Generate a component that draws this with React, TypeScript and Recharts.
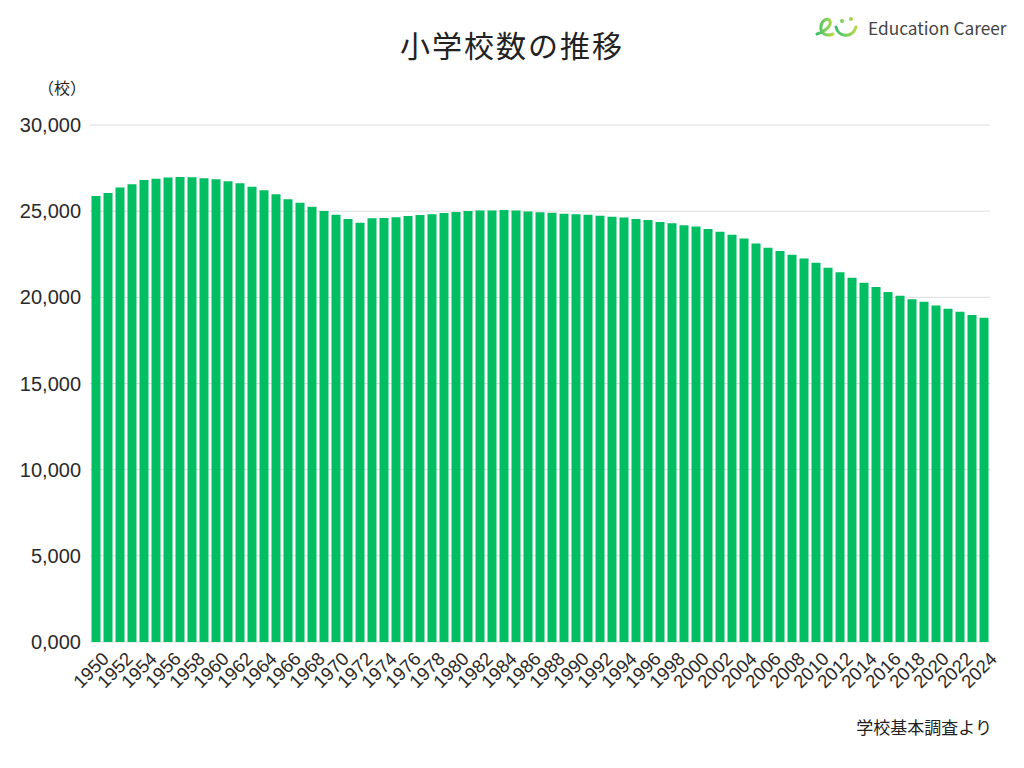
import React from "react";
import { BarChart, Bar, XAxis, YAxis, CartesianGrid } from "recharts";

const years: string[] = [
  "1950","1951","1952","1953","1954","1955","1956","1957","1958","1959",
  "1960","1961","1962","1963","1964","1965","1966","1967","1968","1969",
  "1970","1971","1972","1973","1974","1975","1976","1977","1978","1979",
  "1980","1981","1982","1983","1984","1985","1986","1987","1988","1989",
  "1990","1991","1992","1993","1994","1995","1996","1997","1998","1999",
  "2000","2001","2002","2003","2004","2005","2006","2007","2008","2009",
  "2010","2011","2012","2013","2014","2015","2016","2017","2018","2019",
  "2020","2021","2022","2023","2024",
];

const schools: number[] = [
  25878, 26056, 26377, 26555, 26804, 26880, 26957, 26988, 26964, 26916,
  26858, 26741, 26615, 26423, 26210, 25977, 25687, 25487, 25262, 25013,
  24790, 24540, 24325, 24592, 24606, 24652, 24717, 24777, 24828, 24899,
  24945, 25005, 25043, 25045, 25064, 25040, 24982, 24933, 24901, 24851,
  24827, 24798, 24730, 24676, 24635, 24548, 24482, 24376, 24295, 24188,
  24106, 23964, 23808, 23633, 23420, 23123, 22878, 22693, 22476, 22258,
  22000, 21721, 21460, 21131, 20852, 20601, 20313, 20095, 19892, 19738,
  19525, 19336, 19161, 18980, 18822,
];

const yTicks: number[] = [0, 5000, 10000, 15000, 20000, 25000, 30000];
const yTickLabels: string[] = ["0,000", "5,000", "10,000", "15,000", "20,000", "25,000", "30,000"];

const data = years.map((y, i) => ({ year: y, value: schools[i] }));

const FONT = "'Noto Sans CJK JP', 'Noto Sans', sans-serif";
const NUMFONT = "'Liberation Sans', Arial, sans-serif";

const XTick = (props: any) => {
  const { x, y, payload } = props;
  return (
    <g transform={`translate(${x + 7},${y + 3})`}>
      <text
        x={0}
        y={0}
        dy={10}
        textAnchor="end"
        transform="rotate(-45)"
        fill="#2a2a2a"
        fontSize={18.5}
        fontFamily={NUMFONT}
      >
        {payload.value}
      </text>
    </g>
  );
};

const YTick = (props: any) => {
  const { x, y, payload } = props;
  const idx = yTicks.indexOf(payload.value);
  return (
    <text
      x={x - 1}
      y={y}
      dy={7}
      textAnchor="end"
      fill="#2a2a2a"
      fontSize={20}
      fontFamily={NUMFONT}
    >
      {idx >= 0 ? yTickLabels[idx] : payload.value}
    </text>
  );
};

const Logo = () => (
  <div
    style={{
      position: "absolute",
      left: 814,
      top: 10,
      display: "flex",
      alignItems: "center",
      height: 34,
      whiteSpace: "nowrap",
    }}
  >
    <svg width={48} height={30} viewBox="0 0 48 30">
      <defs>
        <linearGradient id="lg" x1="0" y1="0" x2="1" y2="0">
          <stop offset="0" stopColor="#3cc06a" />
          <stop offset="1" stopColor="#b6d94a" />
        </linearGradient>
      </defs>
      <path
        d="M3 22 C 10 20, 18 14, 16 9 C 14 5, 8 8, 7 14 C 6 21, 12 25, 19 22"
        fill="none"
        stroke="url(#lg)"
        strokeWidth={3}
        strokeLinecap="round"
      />
      <path
        d="M22 15 C 24 25, 38 27, 42 15"
        fill="none"
        stroke="url(#lg)"
        strokeWidth={3}
        strokeLinecap="round"
      />
      <circle cx={28} cy={9} r={2} fill="#7fce5a" />
      <circle cx={37} cy={7} r={2} fill="#9fd552" />
    </svg>
    <span
      style={{
        marginLeft: 6,
        fontFamily: FONT,
        fontSize: 17.3,
        color: "#444",
        whiteSpace: "nowrap",
      }}
    >
      Education Career
    </span>
  </div>
);

export default function App() {
  return (
    <div
      style={{
        position: "absolute",
        left: 0,
        top: 0,
        width: 1024,
        height: 768,
        background: "#fff",
        fontFamily: FONT,
      }}
    >
      <div
        style={{
          position: "absolute",
          left: 0,
          width: 1024,
          top: 24,
          textAlign: "center",
          fontSize: 30,
          letterSpacing: 2,
          color: "#222",
          lineHeight: "40px",
        }}
      >
        小学校数の推移
      </div>
      <Logo />
      <div
        style={{
          position: "absolute",
          left: 38,
          top: 76,
          fontSize: 16,
          color: "#222",
          lineHeight: "22px",
        }}
      >
        （校）
      </div>
      <div
        style={{
          position: "absolute",
          right: 32,
          top: 715,
          fontSize: 17,
          color: "#222",
          lineHeight: "24px",
        }}
      >
        学校基本調査より
      </div>
      <div style={{ position: "absolute", left: 0, top: 0 }}>
        <BarChart
          width={1024}
          height={768}
          data={data}
          margin={{ top: 125, right: 34, left: 0, bottom: 0 }}
          barCategoryGap="12.5%"
        >
          <CartesianGrid vertical={false} stroke="#dddddd" />
          <XAxis
            dataKey="year"
            interval={1}
            tickLine={false}
            axisLine={false}
            height={126}
            tick={<XTick />}
          />
          <YAxis
            domain={[0, 30000]}
            ticks={yTicks}
            width={90}
            tickLine={false}
            axisLine={false}
            tick={<YTick />}
          />
          <Bar dataKey="value" fill="#00BE62" isAnimationActive={false} />
        </BarChart>
      </div>
    </div>
  );
}
